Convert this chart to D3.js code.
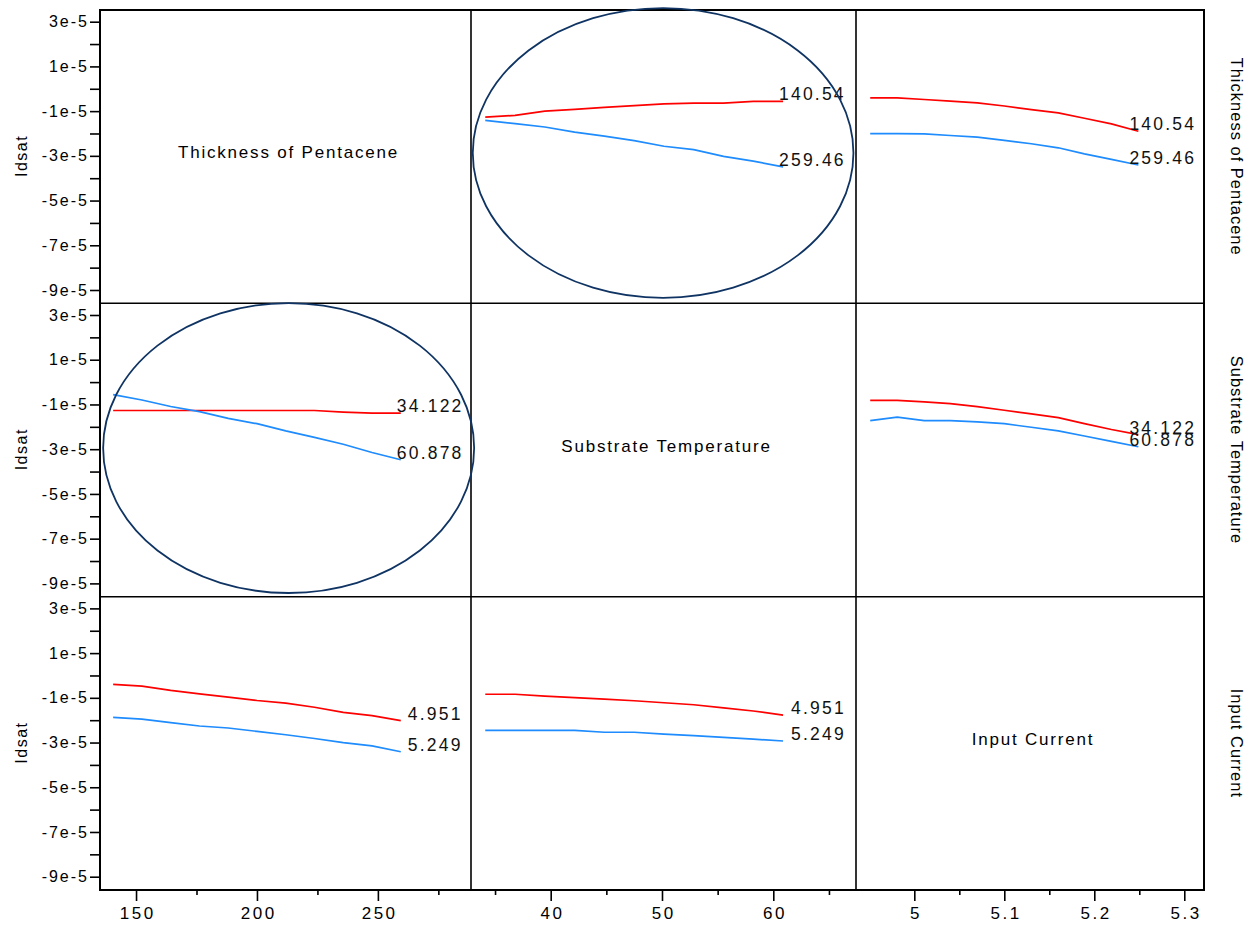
<!DOCTYPE html>
<html>
<head>
<meta charset="utf-8">
<script src="https://cdn.jsdelivr.net/npm/d3@7"></script>
<style>
  body { margin: 0; background: #fff; }
  svg { display: block; font-family: "Liberation Sans", Arial, sans-serif; }
</style>
</head>
<body>
<svg id="chart" width="1257" height="926"></svg>
<script>
// ---- Profiler factors and their two fixed settings (red = low, blue = high) ----
const factors = ["Thickness of Pentacene", "Substrate Temperature", "Input Current"];
const factorLevels = [["140.54", "259.46"], ["34.122", "60.878"], ["4.951", "5.249"]];

// ---- Sweep grids of each factor ----
const thicknessGrid   = [140.54, 152.43, 164.32, 176.22, 188.11, 200.00, 211.89, 223.78, 235.68, 247.57, 259.46];
const temperatureGrid = [34.122, 36.80, 39.47, 42.15, 44.82, 47.50, 50.18, 52.85, 55.53, 58.20, 60.878];
const currentGrid     = [4.951, 4.981, 5.011, 5.040, 5.070, 5.100, 5.130, 5.160, 5.189, 5.219, 5.249];

// ---- Idsat traces (units of 1e-5) ----
// swept temperature, thickness held at 140.54 / 259.46
const idsatTempThickLow  = [-1.27, -1.19, -1.00, -0.92, -0.83, -0.75, -0.68, -0.64, -0.64, -0.56, -0.56];
const idsatTempThickHigh = [-1.41, -1.56, -1.71, -1.94, -2.12, -2.32, -2.57, -2.72, -3.02, -3.24, -3.49];
// swept current, thickness held at 140.54 / 259.46
const idsatCurrThickLow  = [-0.41, -0.41, -0.48, -0.55, -0.63, -0.77, -0.93, -1.08, -1.32, -1.57, -1.90];
const idsatCurrThickHigh = [-2.01, -2.01, -2.02, -2.09, -2.16, -2.31, -2.46, -2.64, -2.91, -3.16, -3.41];
// swept thickness, temperature held at 34.122 / 60.878
const idsatThickTempLow  = [-1.27, -1.27, -1.27, -1.27, -1.27, -1.27, -1.27, -1.27, -1.34, -1.39, -1.39];
const idsatThickTempHigh = [-0.56, -0.80, -1.09, -1.32, -1.62, -1.86, -2.18, -2.47, -2.78, -3.15, -3.47];
// swept current, temperature held at 34.122 / 60.878
const idsatCurrTempLow   = [-0.82, -0.82, -0.88, -0.96, -1.10, -1.26, -1.42, -1.59, -1.86, -2.12, -2.35];
const idsatCurrTempHigh  = [-1.72, -1.57, -1.72, -1.72, -1.78, -1.86, -2.02, -2.18, -2.41, -2.65, -2.89];
// swept thickness, current held at 4.951 / 5.249
const idsatThickCurrLow  = [-0.40, -0.48, -0.67, -0.82, -0.97, -1.12, -1.24, -1.42, -1.65, -1.80, -2.02];
const idsatThickCurrHigh = [-1.87, -1.95, -2.11, -2.26, -2.35, -2.50, -2.65, -2.82, -3.00, -3.15, -3.41];
// swept temperature, current held at 4.951 / 5.249
const idsatTempCurrLow   = [-0.84, -0.84, -0.92, -0.99, -1.06, -1.13, -1.22, -1.31, -1.45, -1.59, -1.77];
const idsatTempCurrHigh  = [-2.46, -2.46, -2.46, -2.46, -2.54, -2.54, -2.62, -2.69, -2.77, -2.85, -2.93];

// ---- Axis ticks ----
const yMajorTicks = [3, 1, -1, -3, -5, -7, -9];
const yMinorTicks = [2, 0, -2, -4, -6, -8];
const yTickLabels = ["3e-5", "1e-5", "-1e-5", "-3e-5", "-5e-5", "-7e-5", "-9e-5"];
const xMajorTicks = [[150, 200, 250], [40, 50, 60], [5, 5.1, 5.2, 5.3]];
const xMinorTicks = [[175, 225, 275], [35, 45, 55, 65], [5.05, 5.15, 5.25]];
const xTickLabels = [["150", "200", "250"], ["40", "50", "60"], ["5", "5.1", "5.2", "5.3"]];

// ---- Highlight ellipses (centre and radii in data units) ----
const ellipseNotes = [
  { row: 0, col: 1, cx: 50.1, cy: -2.87, rx: 17.1, ry: 6.48 },
  { row: 1, col: 0, cx: 213.1, cy: -2.95, rx: 76.7, ry: 6.48 }
];

// ---- Layout ----
const colEdges = [100, 471, 856, 1204];
const rowEdges = [10, 303.3, 596.7, 890];
const xDomains = [[135.1, 288.5], [32.84, 67.43], [4.9352, 5.3219]];
const yDomain = [-9.595, 3.523];
const RED = "#ff0000", BLUE = "#1e8bff", NAVY = "#0f3463";
const FONT = "'Liberation Sans', Arial, sans-serif";

const grids = [thicknessGrid, temperatureGrid, currentGrid];
const panels = [
  { row: 0, col: 1, low: idsatTempThickLow,  high: idsatTempThickHigh, dx: -4 },
  { row: 0, col: 2, low: idsatCurrThickLow,  high: idsatCurrThickHigh, dx: -9 },
  { row: 1, col: 0, low: idsatThickTempLow,  high: idsatThickTempHigh, dx: -4 },
  { row: 1, col: 2, low: idsatCurrTempLow,   high: idsatCurrTempHigh,  dx: -9 },
  { row: 2, col: 0, low: idsatThickCurrLow,  high: idsatThickCurrHigh, dx: 7 },
  { row: 2, col: 1, low: idsatTempCurrLow,   high: idsatTempCurrHigh,  dx: 8 }
];

const svg = d3.select("#chart");
const xScales = xDomains.map((d, i) => d3.scaleLinear().domain(d).range([colEdges[i], colEdges[i + 1]]));
const yScales = [0, 1, 2].map(r => d3.scaleLinear().domain(yDomain).range([rowEdges[r + 1], rowEdges[r]]));

// ---- Y axes on the left of every row ----
yScales.forEach((y, r) => {
  const gMaj = svg.append("g").attr("transform", `translate(${colEdges[0]},0)`)
    .call(d3.axisLeft(y).tickValues(yMajorTicks).tickSize(10).tickPadding(3)
      .tickFormat((d, i) => yTickLabels[i]));
  gMaj.select(".domain").remove();
  gMaj.selectAll("line").attr("stroke", "#000").attr("stroke-width", 1.6);
  gMaj.selectAll("text").attr("font-size", 16).attr("letter-spacing", "2px")
    .attr("dx", "2px").attr("fill", "#000").style("font-family", FONT);

  const gMin = svg.append("g").attr("transform", `translate(${colEdges[0]},0)`)
    .call(d3.axisLeft(y).tickValues(yMinorTicks).tickSize(10).tickFormat(""));
  gMin.select(".domain").remove();
  gMin.selectAll("line").attr("stroke", "#000").attr("stroke-width", 1.6);

  const cy = (rowEdges[r] + rowEdges[r + 1]) / 2;
  svg.append("text").attr("transform", `translate(21,${cy}) rotate(-90)`)
    .attr("text-anchor", "middle").attr("dominant-baseline", "central")
    .attr("font-size", 16).attr("letter-spacing", "1.5px").attr("dx", "0.75px")
    .text("Idsat");
});

// ---- X axes along the bottom of every column ----
xScales.forEach((x, c) => {
  const gMaj = svg.append("g").attr("transform", `translate(0,${rowEdges[3]})`)
    .call(d3.axisBottom(x).tickValues(xMajorTicks[c]).tickSize(11).tickPadding(6)
      .tickFormat((d, i) => xTickLabels[c][i]));
  gMaj.select(".domain").remove();
  gMaj.selectAll("line").attr("stroke", "#000").attr("stroke-width", 1.6);
  gMaj.selectAll("text").attr("font-size", 17).attr("letter-spacing", "2.5px")
    .attr("dx", "1.25px").attr("fill", "#000").style("font-family", FONT);

  const gMin = svg.append("g").attr("transform", `translate(0,${rowEdges[3]})`)
    .call(d3.axisBottom(x).tickValues(xMinorTicks[c]).tickSize(5).tickFormat(""));
  gMin.select(".domain").remove();
  gMin.selectAll("line").attr("stroke", "#000").attr("stroke-width", 1.6);
});

// ---- Frame and cell dividers ----
const frame = svg.append("g").attr("stroke", "#000").attr("fill", "none");
[1, 2].forEach(i => {
  frame.append("line").attr("x1", colEdges[i]).attr("x2", colEdges[i])
    .attr("y1", rowEdges[0]).attr("y2", rowEdges[3]).attr("stroke-width", 1.6);
  frame.append("line").attr("x1", colEdges[0]).attr("x2", colEdges[3])
    .attr("y1", rowEdges[i]).attr("y2", rowEdges[i]).attr("stroke-width", 1.6);
});
frame.append("rect").attr("x", colEdges[0]).attr("y", rowEdges[0])
  .attr("width", colEdges[3] - colEdges[0]).attr("height", rowEdges[3] - rowEdges[0])
  .attr("stroke-width", 2);

// ---- Diagonal cells: factor names ----
factors.forEach((name, i) => {
  const cx = (colEdges[i] + colEdges[i + 1]) / 2 + 3;
  const cy = (rowEdges[i] + rowEdges[i + 1]) / 2 - 4;
  svg.append("text").attr("x", cx).attr("y", cy)
    .attr("text-anchor", "middle").attr("dominant-baseline", "central")
    .attr("font-size", 17).attr("letter-spacing", "1.8px").text(name);
});

// ---- Row titles on the right ----
factors.forEach((name, r) => {
  const cy = (rowEdges[r] + rowEdges[r + 1]) / 2;
  svg.append("text").attr("transform", `translate(1237,${cy}) rotate(90)`)
    .attr("text-anchor", "middle").attr("dominant-baseline", "central")
    .attr("font-size", 16.5).attr("letter-spacing", "1px").text(name);
});

// ---- Profile traces with level labels ----
panels.forEach(p => {
  const x = xScales[p.col], y = yScales[p.row], grid = grids[p.col];
  const line = d3.line().x((d, i) => x(grid[i])).y(d => y(d));
  [[p.low, RED, factorLevels[p.row][0]], [p.high, BLUE, factorLevels[p.row][1]]].forEach(([vals, color, label]) => {
    svg.append("path").datum(vals).attr("d", line)
      .attr("fill", "none").attr("stroke", color).attr("stroke-width", 1.7);
    const last = vals.length - 1;
    svg.append("text").attr("x", x(grid[last]) + p.dx).attr("y", y(vals[last]) - 1)
      .attr("font-size", 17.5).attr("letter-spacing", "2.2px").attr("fill", "#111").text(label);
  });
});

// ---- Highlight ellipses ----
ellipseNotes.forEach(e => {
  const x = xScales[e.col], y = yScales[e.row];
  svg.append("ellipse")
    .attr("cx", x(e.cx)).attr("cy", y(e.cy))
    .attr("rx", x(e.cx + e.rx) - x(e.cx)).attr("ry", y(e.cy) - y(e.cy + e.ry))
    .attr("fill", "none").attr("stroke", NAVY).attr("stroke-width", 1.8);
});
</script>
</body>
</html>
